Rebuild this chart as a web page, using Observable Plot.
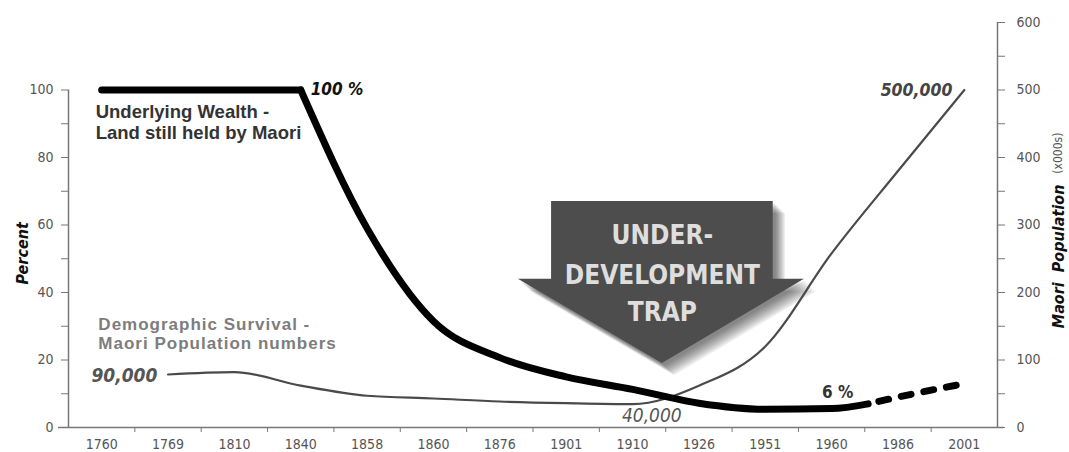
<!DOCTYPE html>
<html><head><meta charset="utf-8">
<script src="https://cdn.jsdelivr.net/npm/d3@7"></script>
<script src="https://cdn.jsdelivr.net/npm/@observablehq/plot@0.6"></script>
<style>
body{margin:0;background:#fff;}
#chart svg{display:block;}
</style></head><body><div id="chart"></div>
<script>
// ---- categories (x axis, evenly spaced periods) ----
const periods = ["1760","1769","1810","1840","1858","1860","1876","1901","1910","1926","1951","1960","1986","2001"];

// ---- Land still held by Maori (%) ----
const landFlatYears = ["1760","1769","1810","1840"];
const landFlatValues = [100,100,100,100];
const landDeclineYears = ["1840","1858","1860","1876","1901","1910","1926","1951","1960"];
const landDeclineValues = [100,59,31.5,20.7,15,11.3,7.2,5.4,5.6];
// solid line ends part-way between 1960 and 1986 (≈6 %), then projected (dashed)
const landBreakValue = 7;
const landProjYears = ["1986","2001"];
const landProjValues = [9,13];

// ---- Maori population (thousands) ----
const popYears = ["1769","1810","1840","1858","1860","1876","1901","1910","1926","1951","1960","1986","2001"];
const popValues = [78.5,82,62,47,43,38.5,36,34.5,62,120,258,380,500];

// ---- tick values ----
const percentTicks = [0,10,20,30,40,50,60,70,80,90,100];
const popTicks = [0,50,100,150,200,250,300,350,400,450,500,550,600];

// ---- Under-development trap arrow outline (x = period index, y = percent) ----
const arrowX      = [6.78, 7.28, 7.28, 8.95, 10.62, 10.62, 11.09];
const arrowTop    = [43.9, 43.9, 67,   67,   67,    43.9,  43.9];
const arrowBottom = [43.9, 38.16,38.16,19,   38.43, 38.43, 43.9];
const arrowLines = ["UNDER-","DEVELOPMENT","TRAP"];
const arrowLineY = [56.9,45,34];

const FONT = '"Liberation Sans Narrow","DejaVu Sans Condensed","Roboto Condensed",sans-serif';
const LABEL = '"Liberation Sans",Arial,sans-serif';

const xi = p => periods.indexOf(p) + 0.5;
const POP_TO_PCT = 600 / 120; // right axis 0–600 aligned with left scale 0–120

const landFlat = landFlatYears.map((p,i)=>({x:xi(p), y:landFlatValues[i]}));
const landDecline = landDeclineYears.map((p,i)=>({x:xi(p), y:landDeclineValues[i]}));
const breakX = xi("1960") + 0.55;
landDecline.push({x:breakX, y:landBreakValue});
const landProj = [{x:breakX, y:landBreakValue}, ...landProjYears.map((p,i)=>({x:xi(p), y:landProjValues[i]}))];
const pop = popYears.map((p,i)=>({x:xi(p), y:popValues[i]/POP_TO_PCT}));
const arrow = arrowX.map((x,i)=>({x, y1:arrowBottom[i], y2:arrowTop[i]}));
const arrowText = arrowLines.map((t,i)=>({t, x:8.95, y:arrowLineY[i]}));

// soft drop shadow built from stacked translucent copies of the arrow
const shadowMarks = d3.range(1, 10).map(k =>
  Plot.areaY(arrow, {x:"x", y1:"y1", y2:"y2", fill:"#000", fillOpacity:0.065, curve:"linear", dx:1.5 + k*1.2, dy:1.5 + k*1.2}));

const plot = Plot.plot({
  width: 1069, height: 452,
  marginLeft: 68, marginRight: 72, marginTop: 22, marginBottom: 25,
  x: {type:"linear", domain:[0,14], axis:null},
  y: {domain:[0,120], axis:null},
  style: {fontFamily: FONT, fontSize: "14px", color:"#555", background:"#fff", overflow:"visible"},
  marks: [
    // arrow
    ...shadowMarks,
    Plot.areaY(arrow, {x:"x", y1:"y1", y2:"y2", fill:"#4d4d4d", curve:"linear"}),
    Plot.text(arrowText, {x:"x", y:"y", text:"t", fill:"#dedede", fontSize:26, fontWeight:"bold", fontFamily:FONT}),
    // axis lines
    Plot.ruleY([0], {x1:-0.15, x2:14.1, stroke:"#777", strokeWidth:1.5}),
    Plot.ruleX([0], {y1:0, y2:100, stroke:"#777", strokeWidth:1.5}),
    Plot.ruleX([14], {y1:0, y2:120, stroke:"#777", strokeWidth:1.5}),
    // axes
    Plot.axisY({anchor:"left", label:null, ticks: percentTicks, tickSize:7, tickPadding:8, stroke:"#777",
      tickFormat: d => d % 20 === 0 ? d : "", fontSize:14}),
    Plot.axisY({anchor:"right", label:null, ticks: popTicks.map(v=>v/POP_TO_PCT), tickSize:7, tickPadding:12, stroke:"#777",
      tickFormat: d => (d*POP_TO_PCT) % 100 === 0 ? Math.round(d*POP_TO_PCT) : "", fontSize:14}),
    Plot.axisX({label:null, ticks: d3.range(1,14), tickSize:5, stroke:"#777", tickFormat: () => ""}),
    Plot.axisX({label:null, ticks: periods.map((p,i)=>i+0.5), tickSize:0, tickPadding:12,
      tickFormat: d => periods[Math.floor(d)], fontSize:14}),
    // axis titles
    Plot.text(["Percent"], {frameAnchor:"left", textAnchor:"middle", dx:-46, y:51.6, rotate:-90, fontWeight:"bold", fontStyle:"italic", fontSize:16, fill:"#111"}),
    Plot.text(["Maori  Population"], {frameAnchor:"right", textAnchor:"middle", dx:61, y:50.7, rotate:-90, fontWeight:"bold", fontStyle:"italic", fontSize:16, fill:"#111"}),
    Plot.text(["(x000s)"], {frameAnchor:"right", textAnchor:"middle", dx:61, y:81.3, rotate:-90, fontSize:12, fill:"#555"}),
    // population line
    Plot.line(pop, {x:"x", y:"y", stroke:"#4a4a4a", strokeWidth:2.2, curve:"monotone-x"}),
    // land line
    Plot.line(landFlat, {x:"x", y:"y", stroke:"#000", strokeWidth:7, strokeLinecap:"round"}),
    Plot.line(landDecline, {x:"x", y:"y", stroke:"#000", strokeWidth:7, strokeLinecap:"round", strokeLinejoin:"round", curve:"monotone-x"}),
    Plot.line(landProj, {x:"x", y:"y", stroke:"#000", strokeWidth:7, strokeLinecap:"round", strokeDasharray:"10,13", strokeDashoffset:12, curve:"monotone-x"}),
    // annotations
    Plot.text(["100 %"], {x:3.65, y:100, textAnchor:"start", fontWeight:"bold", fontStyle:"italic", fontSize:17, fill:"#111"}),
    Plot.text(["Underlying Wealth -\nLand still held by Maori"], {x:0.41, y:90.5, textAnchor:"start", lineHeight:1.13, fontFamily:LABEL, fontWeight:"bold", fontSize:18.5, fill:"#333"}),
    Plot.text(["Demographic Survival -\nMaori Population numbers"], {x:0.45, y:27.9, textAnchor:"start", lineHeight:1.13, fontFamily:LABEL, fontWeight:"bold", fontSize:17, fill:"#7d7d7d"}),
    Plot.text(["90,000"], {x:1.34, y:15.4, textAnchor:"end", fontWeight:"bold", fontStyle:"italic", fontSize:19, fill:"#555"}),
    Plot.text(["40,000"], {x:8.79, y:3.4, fontStyle:"italic", fontSize:19, fill:"#555"}),
    Plot.text(["500,000"], {x:13.32, y:100, textAnchor:"end", fontWeight:"bold", fontStyle:"italic", fontSize:17.5, fill:"#444"}),
    Plot.text(["6 %"], {x:11.59, y:10.4, fontWeight:"bold", fontSize:17, fill:"#333"})
  ]
});
document.getElementById("chart").appendChild(plot);
d3.select(plot).selectAll("text")
  .filter(function() { return this.textContent.startsWith("Demographic"); })
  .attr("letter-spacing", "1");
</script>
</body></html>
